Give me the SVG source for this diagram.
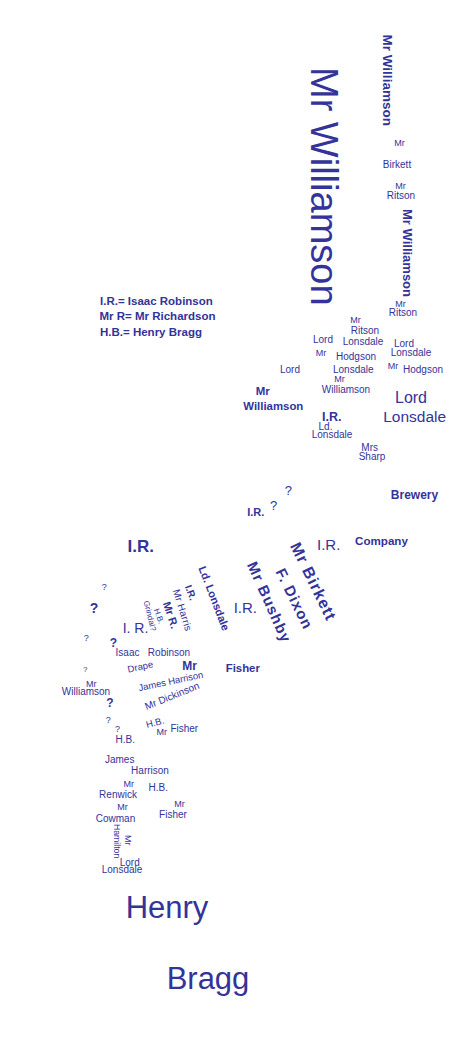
<svg xmlns="http://www.w3.org/2000/svg" width="449" height="1040" viewBox="0 0 449 1040">
<style>
text{font-family:"Liberation Sans",Arial,sans-serif;fill:#333399}
.s{font-size:10px;text-anchor:middle}
.m{font-size:9px;text-anchor:middle}
.b{font-weight:bold}
.c{text-anchor:middle}
</style>
<rect width="449" height="1040" fill="#ffffff"/>
<g id="verticals">
<text transform="translate(311,67) rotate(90)" font-size="38">Mr Williamson</text>
<text class="b" transform="translate(382.5,34.5) rotate(90)" font-size="13.5">Mr Williamson</text>
<text class="b" transform="translate(402.7,209) rotate(90)" font-size="13">Mr Williamson</text>
<text transform="translate(113.5,824) rotate(90)" font-size="8.7">Hamilton</text>
<text transform="translate(125,835) rotate(90)" font-size="9">Mr</text>
</g>
<g id="legend" class="b" font-size="11.5">
<text x="100" y="304.5">I.R.= Isaac Robinson</text>
<text x="99.5" y="320">Mr R= Mr Richardson</text>
<text x="100" y="336">H.B.= Henry Bragg</text>
</g>
<g id="upper">
<text class="m" x="399.5" y="146">Mr</text>
<text class="s" x="397" y="168">Birkett</text>
<text class="m" x="400.5" y="189">Mr</text>
<text class="s" x="401" y="199">Ritson</text>
<text class="m" x="400.5" y="307">Mr</text>
<text class="s" x="403" y="316">Ritson</text>
<text class="m" x="355.5" y="322.7">Mr</text>
<text class="s" x="365" y="334">Ritson</text>
<text class="s" x="323" y="343.3">Lord</text>
<text class="s" x="363" y="345">Lonsdale</text>
<text class="s" x="404" y="346.7">Lord</text>
<text class="s" x="411" y="355.7">Lonsdale</text>
<text class="m" x="321" y="356">Mr</text>
<text class="s" x="356" y="359.5">Hodgson</text>
<text class="s" x="290" y="373">Lord</text>
<text class="s" x="353.3" y="373.3">Lonsdale</text>
<text class="m" x="393" y="369.3">Mr</text>
<text class="s" x="423" y="373">Hodgson</text>
<text class="m" x="339.5" y="382">Mr</text>
<text class="s" x="346" y="392.5" font-size="10.3">Williamson</text>
<text class="c b" x="262.7" y="395" font-size="11.5">Mr</text>
<text class="c b" x="273.3" y="410" font-size="11.4">Williamson</text>
<text class="c" x="411" y="402.7" font-size="16">Lord</text>
<text class="c" x="414.7" y="421.7" font-size="15.5">Lonsdale</text>
<text class="c b" x="331.7" y="420.7" font-size="12.5">I.R.</text>
<text class="s" x="325.5" y="430">Ld.</text>
<text class="s" x="332" y="438">Lonsdale</text>
<text class="s" x="369.7" y="450.7" font-size="9.5">Mrs</text>
<text class="s" x="372" y="460" font-size="9.6">Sharp</text>
</g>
<g id="middle">
<text class="c" x="288.3" y="495" font-size="13">?</text>
<text class="c" x="273.7" y="510" font-size="13">?</text>
<text class="c b" x="255.8" y="516" font-size="11">I.R.</text>
<text class="c b" x="414.5" y="498.6" font-size="12">Brewery</text>
<text class="c b" x="140.7" y="551.7" font-size="17">I.R.</text>
<text class="c" x="328.7" y="550" font-size="15">I.R.</text>
<text class="c b" x="381.5" y="545" font-size="11.6">Company</text>
<text class="c" x="245.3" y="613.3" font-size="15">I.R.</text>
<text class="c" x="135.5" y="633" font-size="14">I. R.</text>
<text class="c" x="104.2" y="590" font-size="9">?</text>
<text class="c b" x="94" y="613.3" font-size="14">?</text>
<text class="c" x="86.2" y="640.7" font-size="9">?</text>
<text class="c b" x="113.3" y="646.7" font-size="12">?</text>
</g>
<g id="rotated">
<text class="c b" transform="translate(313.3,581) rotate(64)" y="5.6" font-size="16" textLength="84" lengthAdjust="spacing">Mr Birkett</text>
<text class="c b" transform="translate(294.2,598.3) rotate(64)" y="5.3" font-size="15" textLength="65" lengthAdjust="spacing">F. Dixon</text>
<text class="c b" transform="translate(269.2,601.7) rotate(66)" y="5.3" font-size="15" textLength="86" lengthAdjust="spacing">Mr Bushby</text>
<text class="c b" transform="translate(214.2,598.3) rotate(69)" y="3.9" font-size="11" textLength="68" lengthAdjust="spacing">Ld. Lonsdale</text>
<text class="c b" transform="translate(190.8,592.5) rotate(70)" y="3.5" font-size="10">I.R.</text>
<text class="c" transform="translate(182.5,610) rotate(73)" y="3.5" font-size="10" textLength="43" lengthAdjust="spacing">Mr Harris</text>
<text class="c b" transform="translate(170.8,615) rotate(72)" y="3.9" font-size="11">Mr R.</text>
<text class="c" transform="translate(159,616) rotate(70)" y="2.8" font-size="8">H.B.</text>
<text class="c" transform="translate(150,615.8) rotate(76)" y="2.8" font-size="8" textLength="31" lengthAdjust="spacing">Grindal?</text>
<text class="c" transform="translate(140.3,666.7) rotate(-12)" y="3.3" font-size="9.5">Drape</text>
<text class="c" transform="translate(170.8,681.2) rotate(-12)" y="3.3" font-size="9.5" textLength="66" lengthAdjust="spacing">James Harrison</text>
<text class="c" transform="translate(172,695.8) rotate(-22)" y="3.5" font-size="10" textLength="58" lengthAdjust="spacing">Mr Dickinson</text>
<text class="c" transform="translate(155,722.5) rotate(-15)" y="3.3" font-size="9.5">H.B.</text>
</g>
<g id="lower">
<text class="s" x="127.5" y="656" font-size="9.5">Isaac</text>
<text class="s" x="169" y="656" font-size="10.3">Robinson</text>
<text class="c b" x="189.7" y="670" font-size="12">Mr</text>
<text class="c b" x="242.8" y="671.7" font-size="11.4">Fisher</text>
<text class="c" x="85.3" y="671.7" font-size="8">?</text>
<text class="m" x="91.3" y="687.3">Mr</text>
<text class="s" x="86" y="695" font-size="10.3">Williamson</text>
<text class="c b" x="110" y="707.3" font-size="12">?</text>
<text class="c" x="108.3" y="722.7" font-size="9">?</text>
<text class="c" x="117.5" y="732.3" font-size="9">?</text>
<text class="s" x="125.3" y="743.3">H.B.</text>
<text class="m" x="161.7" y="735">Mr</text>
<text class="s" x="184.3" y="732.3">Fisher</text>
<text class="s" x="119.7" y="763.3">James</text>
<text class="s" x="150" y="774">Harrison</text>
<text class="m" x="128.7" y="787.3">Mr</text>
<text class="s" x="158.3" y="790.7">H.B.</text>
<text class="s" x="118" y="798.3" font-size="9.5">Renwick</text>
<text class="m" x="122.5" y="810">Mr</text>
<text class="s" x="115.5" y="821.7" font-size="9.5">Cowman</text>
<text class="m" x="179.5" y="806.7">Mr</text>
<text class="s" x="173" y="818.3">Fisher</text>
<text class="s" x="129.7" y="865.7">Lord</text>
<text class="s" x="122" y="873.3">Lonsdale</text>
</g>
<g id="henry-bragg">
<text class="c" x="167" y="918.3" font-size="31">Henry</text>
<text class="c" x="208" y="989.3" font-size="31">Bragg</text>
</g>
</svg>
